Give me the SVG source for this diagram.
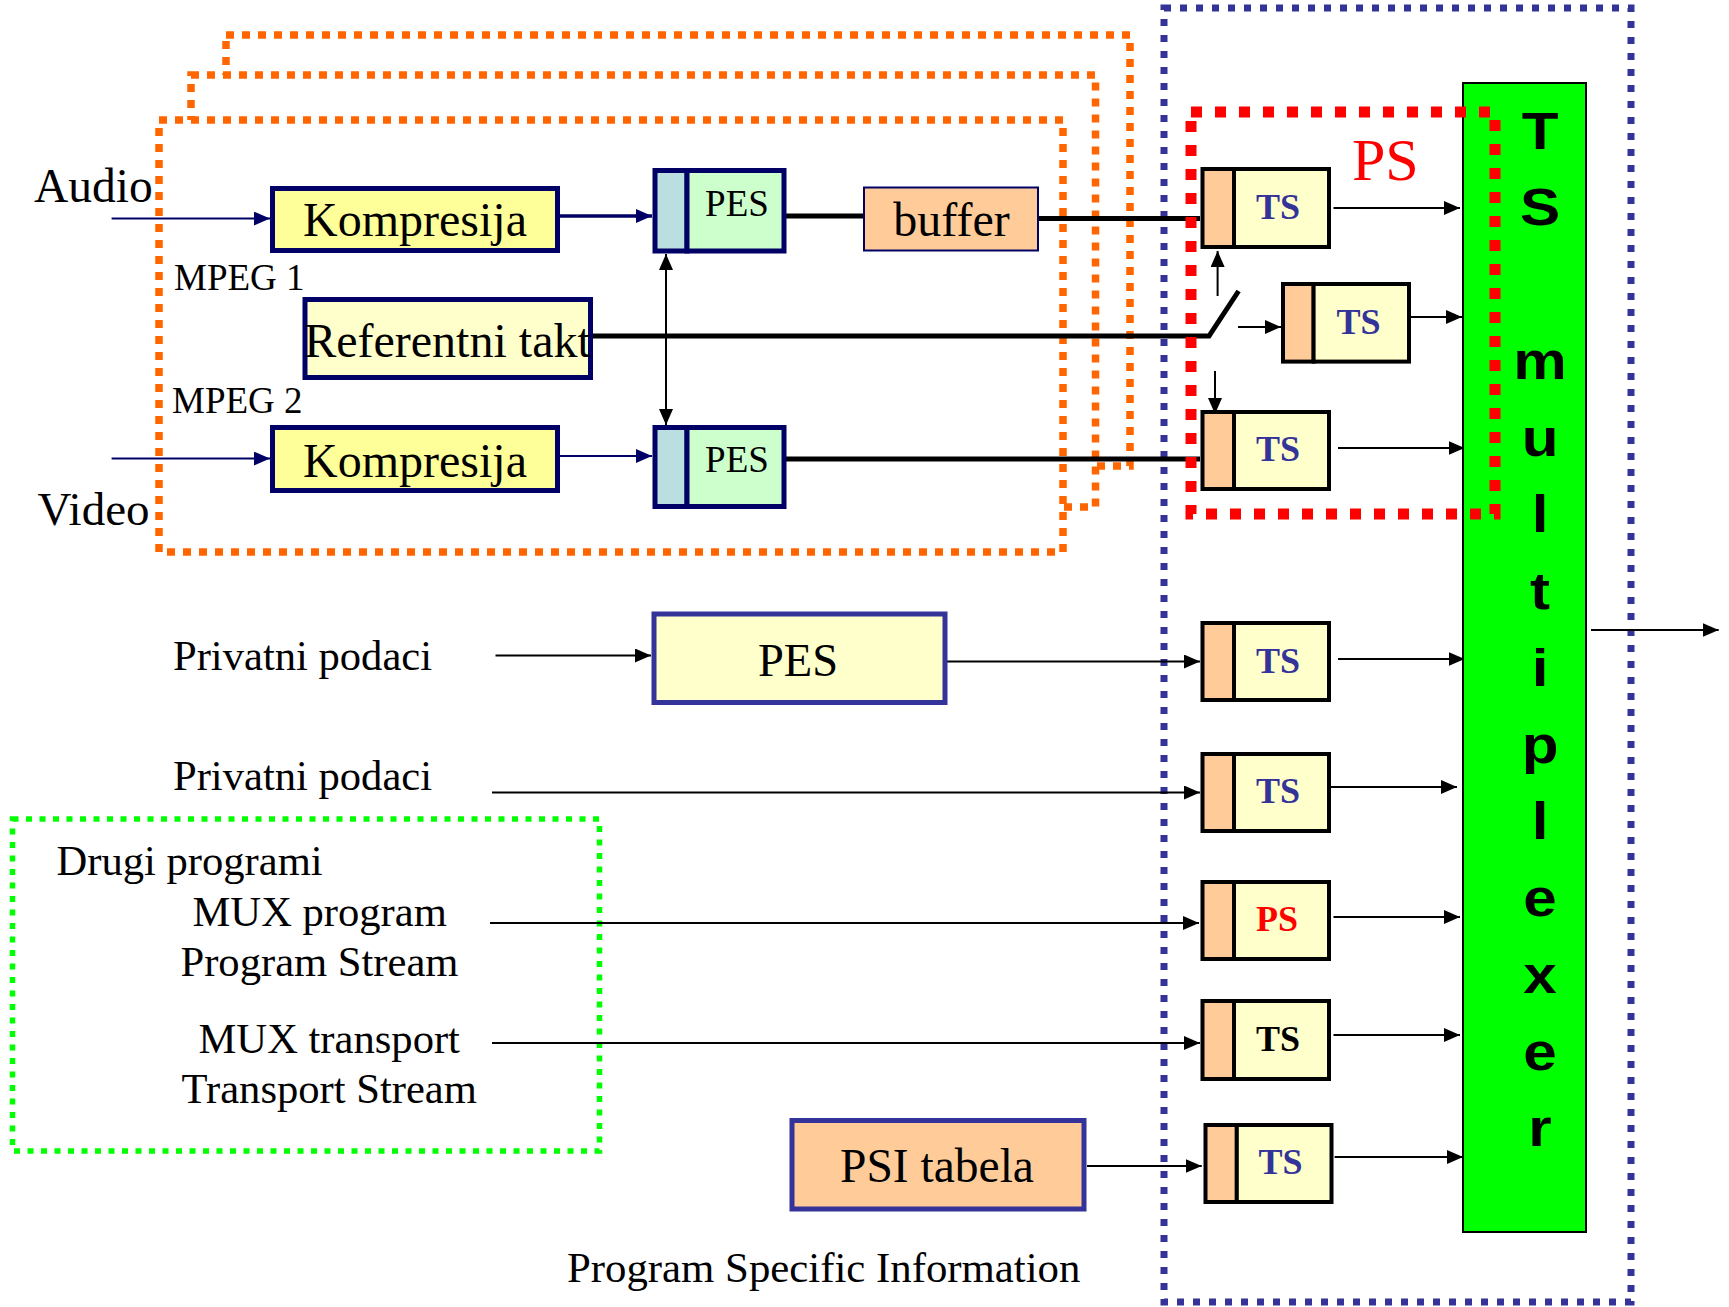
<svg xmlns="http://www.w3.org/2000/svg" width="1729" height="1307" viewBox="0 0 1729 1307">
  <style>
    .serif { font-family: "Liberation Serif", "Times New Roman", serif; fill: #000; }
    .lbl42 { font-size: 42.6px; }
    .ts { font-family: "Liberation Serif", "Times New Roman", serif; font-weight: bold; font-size: 36px; fill: #333399; text-anchor: middle; }
    .frame-or { fill: #fff; stroke: #FF6600; stroke-width: 7.5; stroke-dasharray: 8 8; }
    .frame-gr { fill: none; stroke: #00FF00; stroke-width: 5.5; stroke-dasharray: 6 7.5; }
    .frame-bl { fill: none; stroke: #333399; stroke-width: 7; stroke-dasharray: 7 9; }
    .frame-rd { fill: none; stroke: #FF0000; stroke-width: 11; stroke-dasharray: 11 13; }
    .navy { stroke: #000066; fill: none; }
    .blk { stroke: #000; fill: none; stroke-width: 2; }
    .thick { stroke: #000; fill: none; stroke-width: 5; }
    .komp { fill: #FFFF99; stroke: #000066; stroke-width: 5; }
    .ref { fill: #FFFFCC; stroke: #000066; stroke-width: 5; }
    .pes-a { fill: #BBDFE0; stroke: #000066; stroke-width: 5; }
    .pes-b { fill: #CCFFCC; stroke: #000066; stroke-width: 5; }
    .tsa { fill: #FFCC99; stroke: #000; stroke-width: 4; }
    .tsb { fill: #FFFFCC; stroke: #000; stroke-width: 4; }
    .blue-box { stroke: #333399; stroke-width: 5; }
    .mux-l { font-family: "Liberation Sans", Arial, sans-serif; font-weight: bold; font-size: 51px; text-anchor: middle; fill: #000; }
  </style>
  <defs>
    <marker id="ah" markerUnits="userSpaceOnUse" markerWidth="16" markerHeight="14" refX="16" refY="7" orient="auto-start-reverse">
      <path d="M0,0 L16,7 L0,14 z" fill="#000"/>
    </marker>
    <marker id="ahn" markerUnits="userSpaceOnUse" markerWidth="16" markerHeight="14" refX="16" refY="7" orient="auto">
      <path d="M0,0 L16,7 L0,14 z" fill="#000066"/>
    </marker>
  </defs>

  <rect width="1729" height="1307" fill="#fff"/>

  <!-- program frames (stacked, back to front) -->
  <g id="frames">
    <rect class="frame-or" x="226" y="35" width="904" height="431"/>
    <rect class="frame-or" x="191" y="75" width="904.5" height="432"/>
    <rect class="frame-or" x="159" y="120" width="904" height="432"/>
    <rect class="frame-gr" x="12.5" y="819" width="587" height="332"/>
    <rect class="frame-bl" x="1164" y="8" width="467" height="1294"/>
  </g>

  <!-- connectors -->
  <g id="connectors">
    <path class="navy" stroke-width="2" d="M111.6 218.6 H270" marker-end="url(#ahn)"/>
    <path class="navy" stroke-width="2" d="M111.6 458.6 H270" marker-end="url(#ahn)"/>
    <path class="navy" stroke-width="3.5" d="M560 216 H652" marker-end="url(#ahn)"/>
    <path class="navy" stroke-width="2" d="M560 456 H652" marker-end="url(#ahn)"/>
    <path class="blk" d="M666 254 V425" marker-start="url(#ah)" marker-end="url(#ah)"/>
    <path class="thick" d="M786 216 H863"/>
    <path class="thick" d="M1039 218.6 H1200"/>
    <path class="thick" d="M593 336 H1209 L1238.6 291"/>
    <path class="blk" d="M1217.6 296 V251" marker-end="url(#ah)"/>
    <path class="blk" d="M1238 327 H1281" marker-end="url(#ah)"/>
    <path class="blk" d="M1215 371 V414" marker-end="url(#ah)"/>
    <path class="thick" d="M786 459 H1200"/>
    <path class="blk" d="M1333.5 208 H1460" marker-end="url(#ah)"/>
    <path class="blk" d="M1411 317 H1462" marker-end="url(#ah)"/>
    <path class="blk" d="M1338 448 H1464.6" marker-end="url(#ah)"/>
    <path class="blk" d="M495.5 655.5 H651" marker-end="url(#ah)"/>
    <path class="blk" d="M947 661.5 H1200" marker-end="url(#ah)"/>
    <path class="blk" d="M1338 659 H1464.6" marker-end="url(#ah)"/>
    <path class="blk" d="M492 792.5 H1200" marker-end="url(#ah)"/>
    <path class="blk" d="M1331 787 H1457" marker-end="url(#ah)"/>
    <path class="blk" d="M490 923 H1199" marker-end="url(#ah)"/>
    <path class="blk" d="M1333.5 917 H1460" marker-end="url(#ah)"/>
    <path class="blk" d="M492 1043 H1200" marker-end="url(#ah)"/>
    <path class="blk" d="M1333.5 1035 H1460" marker-end="url(#ah)"/>
    <path class="blk" d="M1087 1166 H1201.7" marker-end="url(#ah)"/>
    <path class="blk" d="M1334.6 1157 H1463" marker-end="url(#ah)"/>
    <path class="blk" d="M1591 630 H1718.7" marker-end="url(#ah)"/>
  </g>

  <!-- free labels -->
  <g id="labels" class="serif">
    <text x="34" y="202" font-size="47.5">Audio</text>
    <text x="37.5" y="525" font-size="47">Video</text>
    <text x="174" y="290" font-size="37">MPEG 1</text>
    <text x="172" y="413" font-size="37">MPEG 2</text>
    <text x="173" y="670" class="lbl42">Privatni podaci</text>
    <text x="173" y="790" class="lbl42">Privatni podaci</text>
    <text x="56.5" y="875" class="lbl42">Drugi programi</text>
    <text x="192.5" y="925.5" class="lbl42">MUX program</text>
    <text x="180.5" y="976" class="lbl42">Program Stream</text>
    <text x="198.5" y="1053" class="lbl42">MUX transport</text>
    <text x="181.5" y="1103" class="lbl42">Transport Stream</text>
    <text x="567" y="1282" font-size="42.8">Program Specific Information</text>
    <text x="1352" y="180" font-size="60" style="fill:#FF0000">PS</text>
  </g>

  <!-- processing blocks -->
  <g id="komp-audio">
    <rect class="komp" x="272.5" y="188.5" width="285" height="62"/>
    <text class="serif" x="415" y="236" font-size="48" text-anchor="middle">Kompresija</text>
  </g>
  <g id="komp-video">
    <rect class="komp" x="272.5" y="427.5" width="285" height="63"/>
    <text class="serif" x="415" y="477" font-size="48" text-anchor="middle">Kompresija</text>
  </g>
  <g id="ref-takt">
    <rect class="ref" x="305" y="299.5" width="285.5" height="78"/>
    <text class="serif" x="447.5" y="357" font-size="48" text-anchor="middle">Referentni takt</text>
  </g>
  <g id="pes-audio">
    <rect class="pes-a" x="655" y="170.5" width="32" height="80.5"/>
    <rect class="pes-b" x="687" y="170.5" width="97" height="80.5"/>
    <text class="serif" x="737" y="216" font-size="37" text-anchor="middle">PES</text>
  </g>
  <g id="pes-video">
    <rect class="pes-a" x="655" y="427.5" width="32" height="79"/>
    <rect class="pes-b" x="687" y="427.5" width="97" height="79"/>
    <text class="serif" x="737" y="472" font-size="37" text-anchor="middle">PES</text>
  </g>
  <g id="buffer">
    <rect x="864" y="187.5" width="174" height="63" fill="#FFCC99" stroke="#000066" stroke-width="2"/>
    <text class="serif" x="951.5" y="236" font-size="48" text-anchor="middle">buffer</text>
  </g>
  <g id="pes-private">
    <rect class="blue-box" x="654" y="614" width="291" height="88.5" fill="#FFFFCC"/>
    <text class="serif" x="798" y="676" font-size="46.5" text-anchor="middle">PES</text>
  </g>
  <g id="psi-table">
    <rect class="blue-box" x="792" y="1120.5" width="292" height="88.5" fill="#FFCC99"/>
    <text class="serif" x="937" y="1182" font-size="47.5" text-anchor="middle">PSI tabela</text>
  </g>

  <!-- transport stream packetizers -->
  <g id="ts1">
    <rect class="tsa" x="1202.5" y="169" width="31.5" height="78"/>
    <rect class="tsb" x="1234" y="169" width="95" height="78"/>
    <text class="ts" x="1278" y="218.6">TS</text>
  </g>
  <g id="ts2">
    <rect class="tsa" x="1283" y="284" width="30.6" height="77.6"/>
    <rect class="tsb" x="1313.6" y="284" width="95.4" height="77.6"/>
    <text class="ts" x="1358.5" y="334">TS</text>
  </g>
  <g id="ts3">
    <rect class="tsa" x="1202.5" y="412" width="31.5" height="77"/>
    <rect class="tsb" x="1234" y="412" width="95" height="77"/>
    <text class="ts" x="1278" y="461">TS</text>
  </g>
  <g id="ts4">
    <rect class="tsa" x="1202.5" y="623" width="31.5" height="77"/>
    <rect class="tsb" x="1234" y="623" width="95" height="77"/>
    <text class="ts" x="1278" y="673">TS</text>
  </g>
  <g id="ts5">
    <rect class="tsa" x="1202.5" y="754" width="31.5" height="77"/>
    <rect class="tsb" x="1234" y="754" width="95" height="77"/>
    <text class="ts" x="1278" y="803">TS</text>
  </g>
  <g id="ps-mux">
    <rect class="tsa" x="1202.5" y="882" width="31.5" height="77"/>
    <rect class="tsb" x="1234" y="882" width="95" height="77"/>
    <text class="ts" x="1277" y="930.6" style="fill:#FF0000">PS</text>
  </g>
  <g id="ts6">
    <rect class="tsa" x="1202.5" y="1001" width="31.5" height="78"/>
    <rect class="tsb" x="1234" y="1001" width="95" height="78"/>
    <text class="ts" x="1278" y="1051" style="fill:#000">TS</text>
  </g>
  <g id="ts7">
    <rect class="tsa" x="1205.5" y="1125" width="31.3" height="77"/>
    <rect class="tsb" x="1236.8" y="1125" width="94.7" height="77"/>
    <text class="ts" x="1280.5" y="1173.6">TS</text>
  </g>

  <!-- transport stream multiplexer, label set one letter per line -->
  <g id="ts-multiplexer">
    <rect x="1463" y="83" width="123" height="1149" fill="#00FF00" stroke="#000" stroke-width="2"/>
    <g transform="translate(1540,0) scale(1.18,1)">
      <text class="mux-l" x="0" y="149">T</text>
      <text class="mux-l" x="0" y="225">S</text>
      <text class="mux-l" x="0" y="379">m</text>
      <text class="mux-l" x="0" y="456">u</text>
      <text class="mux-l" x="0" y="532">l</text>
      <text class="mux-l" x="0" y="609">t</text>
      <text class="mux-l" x="0" y="686">i</text>
      <text class="mux-l" x="0" y="763">p</text>
      <text class="mux-l" x="0" y="839">l</text>
      <text class="mux-l" x="0" y="916">e</text>
      <text class="mux-l" x="0" y="993">x</text>
      <text class="mux-l" x="0" y="1070">e</text>
      <text class="mux-l" x="0" y="1146">r</text>
    </g>
  </g>

  <!-- program stream frame -->
  <g id="ps-frame">
    <rect class="frame-rd" x="1191" y="112" width="304" height="402"/>
  </g>
</svg>
